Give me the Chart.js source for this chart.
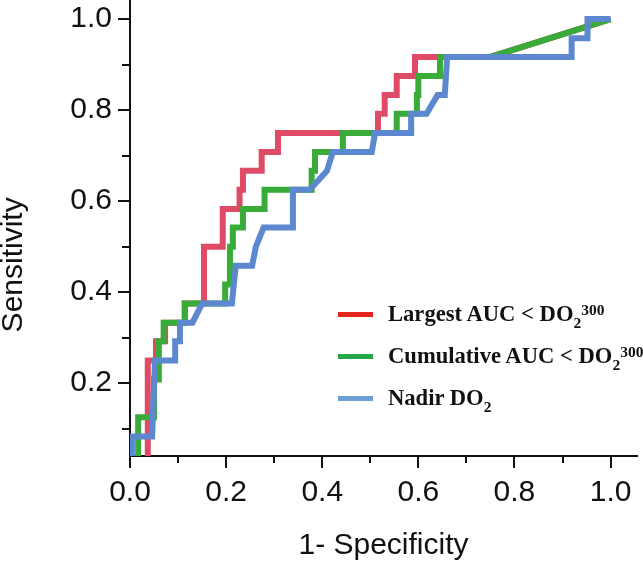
<!DOCTYPE html>
<html>
<head>
<meta charset="utf-8">
<script src="https://cdn.jsdelivr.net/npm/chart.js@4.4.1/dist/chart.umd.min.js"></script>
<style>
  html, body { margin: 0; padding: 0; background: #fff; }
  #wrap { position: relative; width: 643px; height: 564px; overflow: hidden; }
  #rocChart { display: block; }
  #legend { position: absolute; left: 338px; top: 293px; font: bold 22.6px 'Liberation Serif', 'Times New Roman', serif; color: #111; }
  .row { display: flex; align-items: center; height: 42px; white-space: nowrap; }
  .swatch { width: 35px; height: 5px; margin-right: 15px; flex: none; }
  .sub, .sup { position: relative; font-size: 15.5px; }
  .sub { top: 7px; }
  .sup { top: -6px; }
</style>
</head>
<body>
<div id="wrap">
  <canvas id="rocChart" width="643" height="564"></canvas>
  <div id="legend"></div>
</div>
<script>
// tick values and labels
const xTickValues = [0, 0.2, 0.4, 0.6, 0.8, 1.0];
const xTickLabels = ['0.0', '0.2', '0.4', '0.6', '0.8', '1.0'];
const yTickValues = [0.2, 0.4, 0.6, 0.8, 1.0];
const yTickLabels = ['0.2', '0.4', '0.6', '0.8', '1.0'];
const minorTicks = [0.1, 0.3, 0.5, 0.7, 0.9];

const seriesNames = ['Largest AUC < DO2 300', 'Cumulative AUC < DO2 300', 'Nadir DO2'];
const legendHtml = [
    'Largest AUC &lt; DO<span class="sub">2</span><span class="sup">300</span>',
    'Cumulative AUC &lt; DO<span class="sub">2</span><span class="sup">300</span>',
    'Nadir DO<span class="sub">2</span>'
];

// ROC vertices (1 - specificity, sensitivity)
const largestFpr = [0, 0.037, 0.037, 0.054, 0.054, 0.073, 0.073, 0.114, 0.114, 0.154, 0.154, 0.193, 0.193, 0.228, 0.228, 0.235, 0.235, 0.274, 0.274, 0.308, 0.308, 0.516, 0.516, 0.53, 0.53, 0.555, 0.555, 0.593, 0.593, 0.75, 1.0];
const largestTpr = [0, 0, 0.25, 0.25, 0.292, 0.292, 0.333, 0.333, 0.375, 0.375, 0.5, 0.5, 0.583, 0.583, 0.625, 0.625, 0.667, 0.667, 0.708, 0.708, 0.75, 0.75, 0.792, 0.792, 0.833, 0.833, 0.875, 0.875, 0.917, 0.917, 1.0];

const cumulativeFpr = [0, 0.017, 0.017, 0.05, 0.05, 0.06, 0.06, 0.07, 0.07, 0.114, 0.114, 0.198, 0.198, 0.208, 0.208, 0.214, 0.214, 0.235, 0.235, 0.28, 0.28, 0.378, 0.378, 0.385, 0.385, 0.443, 0.443, 0.555, 0.555, 0.597, 0.597, 0.6, 0.6, 0.645, 0.645, 0.75, 1.0];
const cumulativeTpr = [0, 0, 0.125, 0.125, 0.208, 0.208, 0.292, 0.292, 0.333, 0.333, 0.375, 0.375, 0.417, 0.417, 0.5, 0.5, 0.542, 0.542, 0.583, 0.583, 0.625, 0.625, 0.667, 0.667, 0.708, 0.708, 0.75, 0.75, 0.792, 0.792, 0.833, 0.833, 0.875, 0.875, 0.917, 0.917, 1.0];

const nadirFpr = [0, 0.004, 0.004, 0.046, 0.052, 0.094, 0.094, 0.104, 0.104, 0.13, 0.15, 0.212, 0.22, 0.254, 0.262, 0.278, 0.339, 0.339, 0.374, 0.41, 0.422, 0.503, 0.51, 0.585, 0.585, 0.617, 0.64, 0.655, 0.66, 0.919, 0.919, 0.952, 0.952, 1.0];
const nadirTpr = [0, 0, 0.083, 0.083, 0.25, 0.25, 0.292, 0.292, 0.333, 0.333, 0.375, 0.375, 0.458, 0.458, 0.5, 0.542, 0.542, 0.625, 0.625, 0.667, 0.708, 0.708, 0.75, 0.75, 0.792, 0.792, 0.833, 0.833, 0.917, 0.917, 0.958, 0.958, 1.0, 1.0];

const lineColors = ['#de4b66', '#38ab39', '#5c88cf'];
const legendColors = ['#e4261f', '#22a84b', '#6f9fd9'];

function toPoints(xs, ys) {
    return xs.map((x, i) => ({ x: x, y: ys[i] }));
}

const axisFont = { family: "'Liberation Sans', Arial, sans-serif", size: 30 };

// short minor tick marks on both axes, and the y title set a bit below centre
const axisExtras = {
    id: 'axisExtras',
    afterDraw(chart) {
        const c = chart.ctx;
        const xs = chart.scales.x;
        const ys = chart.scales.y;
        c.save();
        c.strokeStyle = '#111';
        c.lineWidth = 2;
        c.beginPath();
        minorTicks.forEach(v => {
            const px = Math.round(xs.getPixelForValue(v));
            c.moveTo(px, xs.top);
            c.lineTo(px, xs.top + 7);
            const py = Math.round(ys.getPixelForValue(v));
            c.moveTo(ys.right, py);
            c.lineTo(ys.right - 8, py);
        });
        c.stroke();

        c.translate(14, ys.getPixelForValue(0.46));
        c.rotate(-Math.PI / 2);
        c.fillStyle = '#111';
        c.font = axisFont.size + 'px ' + axisFont.family;
        c.textAlign = 'center';
        c.textBaseline = 'middle';
        c.fillText('Sensitivity', 0, 0);
        c.restore();
    }
};

const ctx = document.getElementById('rocChart');

new Chart(ctx, {
    type: 'scatter',
    data: {
        datasets: [
            {
                label: seriesNames[0],
                data: toPoints(largestFpr, largestTpr),
                borderColor: lineColors[0],
                order: 3
            },
            {
                label: seriesNames[1],
                data: toPoints(cumulativeFpr, cumulativeTpr),
                borderColor: lineColors[1],
                order: 2
            },
            {
                label: seriesNames[2],
                data: toPoints(nadirFpr, nadirTpr),
                borderColor: lineColors[2],
                order: 1
            }
        ].map(d => Object.assign(d, {
            showLine: true,
            borderWidth: 6,
            pointRadius: 0,
            fill: false,
            tension: 0,
            clip: 0,
            borderJoinStyle: 'miter',
            backgroundColor: d.borderColor
        }))
    },
    options: {
        responsive: false,
        animation: false,
        layout: {
            padding: { top: 0, right: 6, bottom: 0, left: 0 }
        },
        plugins: {
            legend: { display: false },
            tooltip: { enabled: false }
        },
        scales: {
            x: {
                type: 'linear',
                min: 0,
                max: 1.055,
                afterBuildTicks: s => { s.ticks = xTickValues.map(v => ({ value: v })); },
                afterFit: s => { s.height = 108; s.paddingLeft = 0; s.paddingRight = 0; },
                ticks: {
                    callback: (v, i) => xTickLabels[i],
                    font: axisFont,
                    color: '#111',
                    padding: 7,
                    maxRotation: 0,
                    autoSkip: false
                },
                grid: { drawOnChartArea: false, drawTicks: true, tickLength: 12, color: '#111', lineWidth: 2 },
                border: { color: '#111', width: 2 },
                title: { display: true, text: '1- Specificity', font: axisFont, color: '#111', padding: { top: 0, bottom: 0 } }
            },
            y: {
                type: 'linear',
                min: 0.04,
                max: 1.042,
                afterBuildTicks: s => { s.ticks = yTickValues.map(v => ({ value: v })); },
                afterFit: s => { s.width = 130; s.paddingTop = 0; s.paddingBottom = 0; },
                ticks: {
                    callback: (v, i) => yTickLabels[i],
                    font: axisFont,
                    color: '#111',
                    padding: 6,
                    autoSkip: false
                },
                grid: { drawOnChartArea: false, drawTicks: true, tickLength: 12, color: '#111', lineWidth: 2 },
                border: { color: '#111', width: 2 },
                title: { display: false, text: 'Sensitivity' }
            }
        }
    },
    plugins: [axisExtras]
});

// legend drawn as html text so that subscripts stay real text
const legendBox = document.getElementById('legend');
legendHtml.forEach((html, i) => {
    const row = document.createElement('div');
    row.className = 'row';
    row.innerHTML = '<span class="swatch" style="background:' + legendColors[i] + '"></span><span>' + html + '</span>';
    legendBox.appendChild(row);
});
</script>
</body>
</html>
